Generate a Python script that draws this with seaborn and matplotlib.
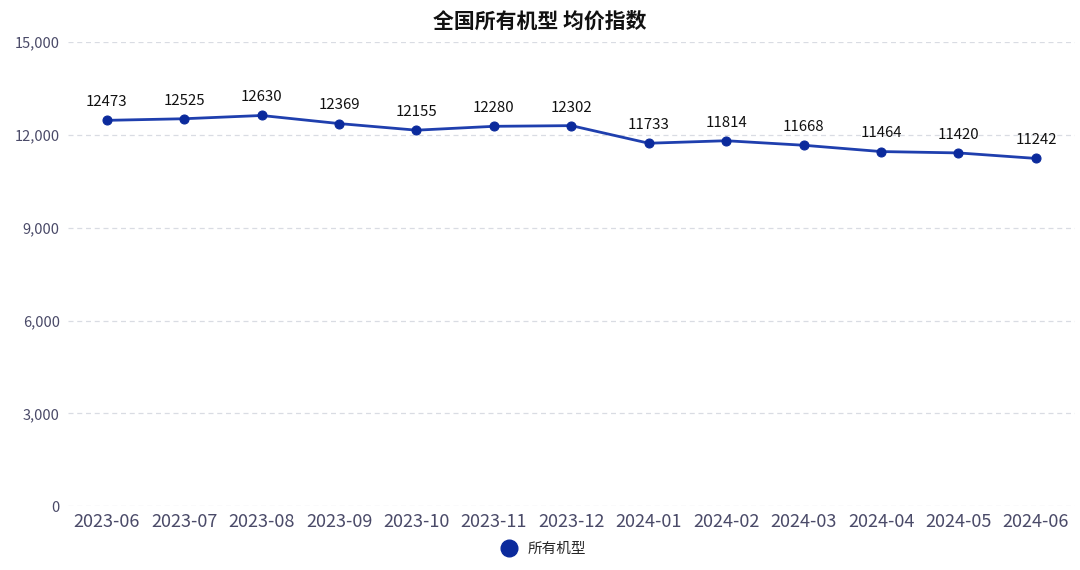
import matplotlib
matplotlib.use("Agg")
import matplotlib.pyplot as plt
import seaborn as sns
import pandas as pd
from matplotlib.ticker import FuncFormatter
from matplotlib.lines import Line2D

months = ["2023-06", "2023-07", "2023-08", "2023-09", "2023-10", "2023-11", "2023-12",
          "2024-01", "2024-02", "2024-03", "2024-04", "2024-05", "2024-06"]
values = [12473, 12525, 12630, 12369, 12155, 12280, 12302,
          11733, 11814, 11668, 11464, 11420, 11242]
yticks = [0, 3000, 6000, 9000, 12000, 15000]
title = "全国所有机型 均价指数"
series_name = "所有机型"

sns.set_theme(style="white")
plt.rcParams['font.family'] = ['Noto Sans CJK SC', 'DejaVu Sans']

df = pd.DataFrame({"month": months, "value": values})

fig = plt.figure(figsize=(10.8, 5.7), dpi=100)
ax = fig.add_axes([0.063, 0.112, 0.932, 0.814])

line_color = "#1f3fae"
marker_color = "#0b2a9c"
sns.lineplot(data=df, x="month", y="value", ax=ax, color=line_color, linewidth=2,
             marker="o", markersize=6.5, markerfacecolor=marker_color,
             markeredgecolor=marker_color, sort=False)

for i, v in enumerate(values):
    ax.annotate(str(v), (i, v), xytext=(0, 8), textcoords="offset points",
                ha="center", va="bottom", fontsize=10.8, color="#111111")

ax.set_xlim(-0.5, len(months) - 0.5)
ax.set_ylim(0, 15000)
ax.set_yticks(yticks)
ax.yaxis.set_major_formatter(FuncFormatter(lambda v, p: f"{int(v):,}"))
ax.grid(axis="y", linestyle=(0, (4, 3)), color="#d9dce3", linewidth=0.9)
ax.set_axisbelow(True)
for s in ax.spines.values():
    s.set_visible(False)
ax.set_xlabel("")
ax.set_ylabel("")
ax.tick_params(axis="x", labelsize=13, colors="#4a4a68", length=0, pad=5)
ax.tick_params(axis="y", labelsize=10.5, colors="#4a4a68", length=0, pad=6)

fig.text(0.5, 0.962, title, ha="center", va="center", fontsize=15, fontweight="bold",
         color="#111111")

handle = Line2D([], [], linestyle="none", marker="o", markersize=12,
                markerfacecolor=marker_color, markeredgecolor=marker_color)
fig.legend([handle], [series_name], loc="center", bbox_to_anchor=(0.5, 0.037),
           frameon=False, fontsize=10.5, handletextpad=0.3)

fig.savefig("out.png", dpi=100, facecolor="white")
